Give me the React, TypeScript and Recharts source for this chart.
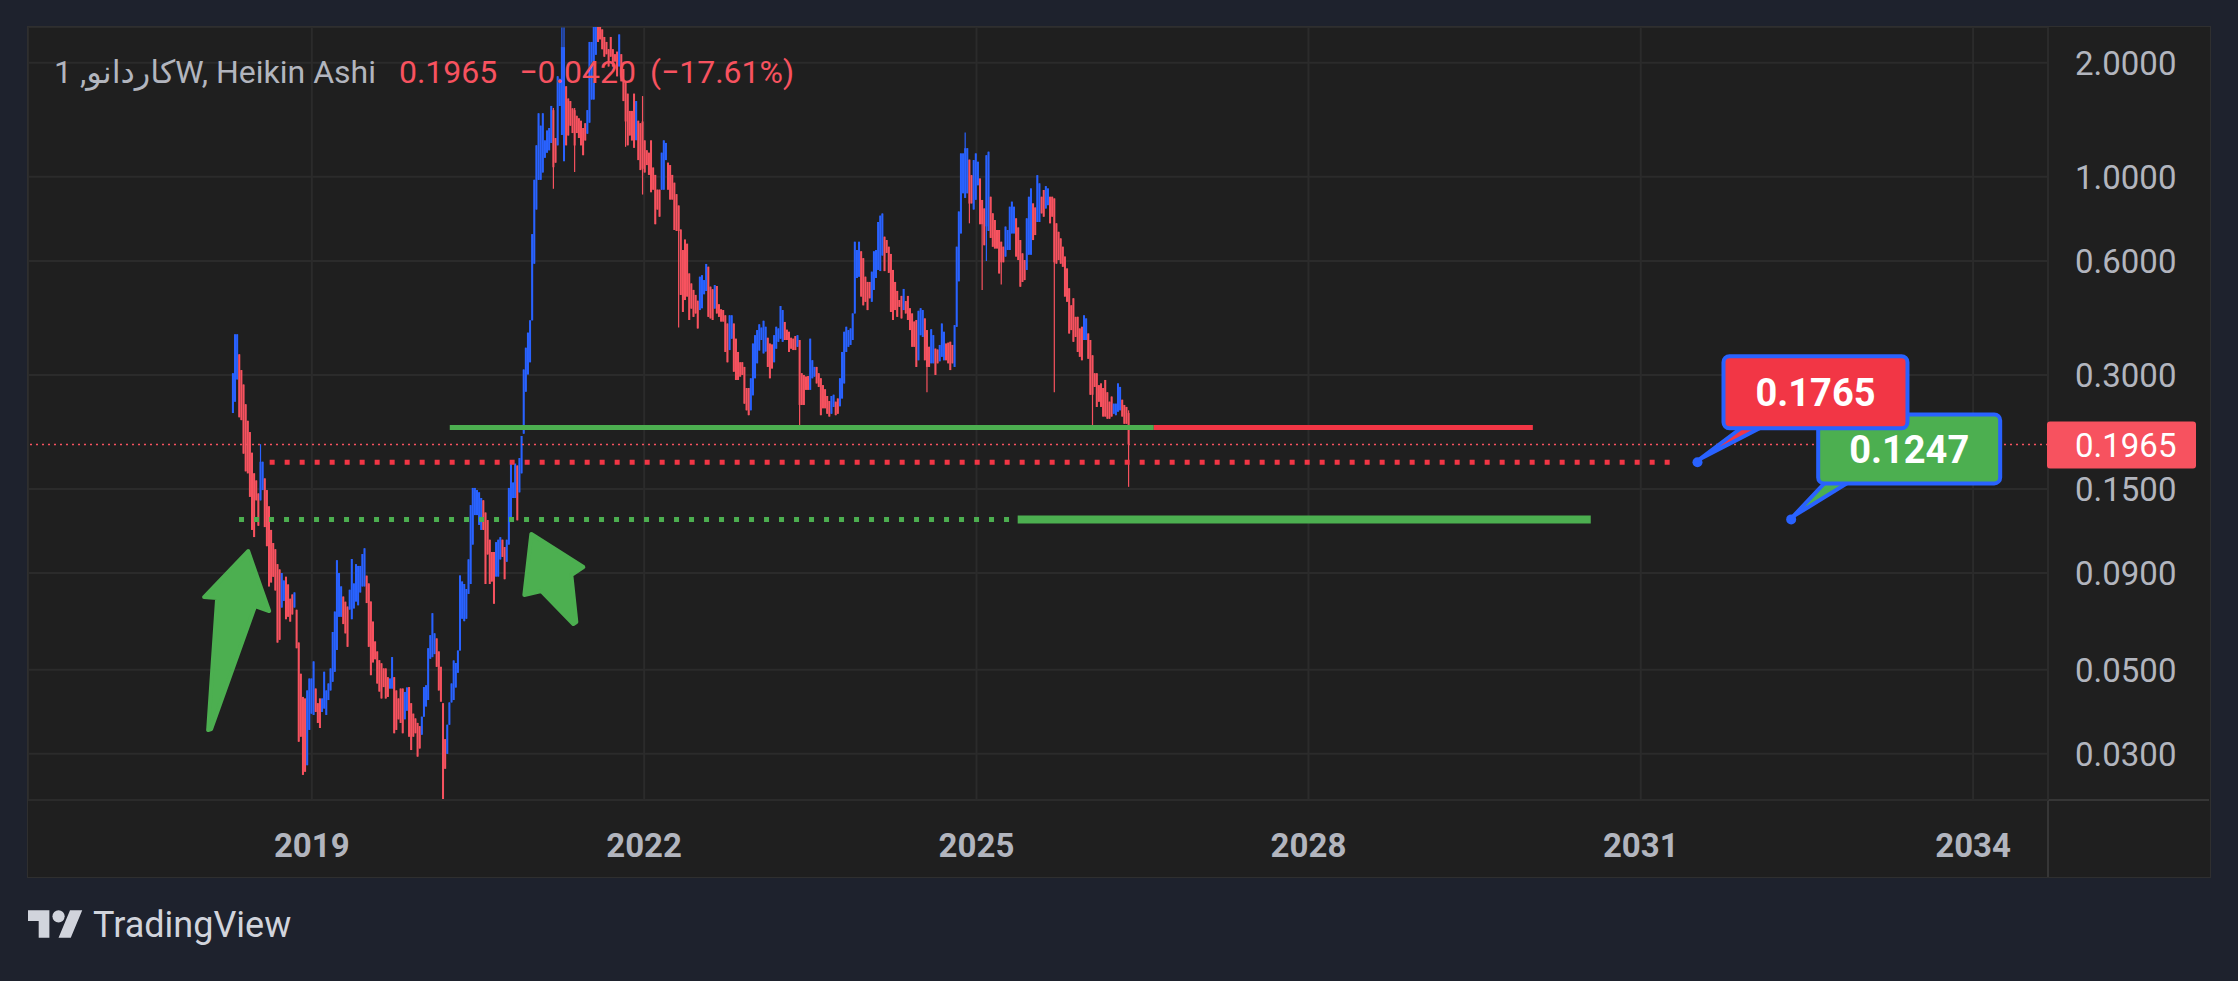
import React from "react";
import {
  ComposedChart, Bar, XAxis, YAxis, CartesianGrid, ReferenceLine, ReferenceDot,
} from "recharts";

const BLUE = "#2962ff";
const RED = "#f7525f";
const LINE_RED = "#f23645";
const GREEN = "#4caf50";
const TEXT = "#b2b5be";

const WEEK = 7 * 86400000;
const utc = (s: string) => Date.parse(s + "T00:00:00Z");
const START = utc("2018-04-16");

// weekly Heikin Ashi candles: [open, close, high?, low?]
const ada2018 = [
  [0.238, 0.303], [0.255, 0.384], [0.292, 0.384], [0.34, 0.232], [0.309, 0.228], [0.283, 0.186], [0.251, 0.167], [0.227, 0.165], [0.212, 0.143], [0.187, 0.117],
  [0.165, 0.112], [0.158, 0.14], [0.146, 0.12], [0.14, 0.177, 0.197], [0.149, 0.177], [0.16, 0.119], [0.149, 0.106], [0.135, 0.083], [0.117, 0.085], [0.108, 0.088],
  [0.104, 0.081], [0.095, 0.059], [0.092, 0.06], [0.073, 0.09], [0.076, 0.086], [0.088, 0.068], [0.084, 0.069], [0.077, 0.067], [0.079, 0.07], [0.073, 0.08],
  [0.072, 0.057], [0.059, 0.0323], [0.0488, 0.0333], [0.0424, 0.0264], [0.042, 0.0269], [0.028, 0.0441], [0.0347, 0.0474], [0.0383, 0.0474], [0.038, 0.0526], [0.0446, 0.0387],
  [0.0408, 0.0362], [0.042, 0.0351], [0.0387, 0.042], [0.0395, 0.0494], [0.038, 0.0441], [0.0416, 0.046], [0.0441, 0.0504], [0.0465, 0.0629], [0.0494, 0.0712], [0.0564, 0.0973],
  [0.069, 0.09], [0.069, 0.083], [0.078, 0.066], [0.0756, 0.0624], [0.0734, 0.0575], [0.0721, 0.0813], [0.068, 0.098], [0.0726, 0.0845], [0.0757, 0.095], [0.074, 0.094],
  [0.08, 0.094], [0.083, 0.101], [0.083, 0.1046], [0.0886, 0.075], [0.0845, 0.0575], [0.0757, 0.0484], [0.067, 0.0523], [0.0594, 0.0533], [0.0559, 0.046], [0.053, 0.0438],
  [0.052, 0.042], [0.0504, 0.045], [0.0504, 0.042], [0.0478, 0.0424], [0.0446, 0.0474], [0.0446, 0.054], [0.0478, 0.034], [0.0441, 0.0347], [0.042, 0.037], [0.0446, 0.0362],
  [0.0446, 0.034], [0.037, 0.0437], [0.039, 0.0449], [0.045, 0.0333], [0.0408, 0.0307], [0.0383, 0.0333], [0.0372, 0.034], [0.0362, 0.0295], [0.0355, 0.031], [0.0337, 0.0376],
  [0.0376, 0.045], [0.04, 0.0455], [0.0416, 0.057], [0.0535, 0.0617], [0.054, 0.0705], [0.055, 0.0624], [0.0605, 0.0509], [0.0559, 0.0441], [0.0509, 0.0412], [0.0408, 0.0228],
];

const ada2020 = [
  [0.0328, 0.0274], [0.03, 0.0358], [0.0358, 0.041], [0.041, 0.046], [0.0416, 0.0529], [0.0449, 0.0521], [0.0491, 0.0562], [0.0562, 0.0887], [0.0682, 0.0855], [0.0672, 0.0842],
  [0.0682, 0.0817], [0.0793, 0.0978], [0.0842, 0.136], [0.107, 0.151], [0.128, 0.151], [0.128, 0.149], [0.1206, 0.147], [0.117, 0.142], [0.14, 0.117], [0.13, 0.0842],
  [0.1242, 0.1008], [0.1102, 0.0842], [0.1023, 0.0855], [0.1023, 0.0747], [0.0881, 0.1086], [0.0881, 0.1102], [0.0978, 0.1119], [0.1102, 0.0993], [0.1054, 0.0867], [0.0964, 0.1102],
  [0.107, 0.151], [0.124, 0.178], [0.142, 0.156], [0.142, 0.175], [0.173, 0.124], [0.147, 0.181], [0.165, 0.207], [0.21, 0.31], [0.271, 0.354], [0.301, 0.388],
  [0.324, 0.418], [0.418, 0.706], [0.59, 0.982], [0.82, 1.211], [0.982, 1.471], [0.982, 1.365], [1.027, 1.471], [1.123, 1.248], [1.158, 1.325], [1.175, 1.345],
  [1.229, 1.539], [1.5, 1.06, 1.52, 0.93], [1.266, 1.09], [1.211, 1.842], [1.539, 1.814], [1.29, 2.2, 2.48], [1.1, 2.2, 2.48], [1.734, 1.211], [1.609, 1.286], [1.585, 1.365],
  [1.516, 1.305], [1.5, 1.21, 1.52, 1.03], [1.449, 1.305], [1.427, 1.266], [1.406, 1.211], [1.345, 1.141], [1.385, 1.248], [1.3, 1.5], [1.39, 2.27], [1.6, 2.27],
  [1.6, 2.6], [2.1, 2.8], [2.7, 2.27], [2.6, 2.306], [2.45, 2.172], [2.34, 2.076], [2.27, 2.107], [2.172, 1.956], [2.34, 2.076], [2.172, 1.956],
  [2.107, 2.015], [2.14, 1.842], [1.956, 2.376], [2.107, 1.787], [1.926, 1.585], [1.79, 1.4, 1.79, 1.2], [1.658, 1.211], [1.493, 1.286], [1.493, 1.248], [1.658, 1.193],
  [1.25, 1.585], [1.406, 1.107], [1.385, 1.042], [1.4, 1.05, 1.634, 0.898], [1.248, 1.027], [1.175, 1.074], [1.158, 1.012], [1.248, 0.911], [1.058, 0.925], [1.012, 0.75],
  [0.925, 0.82], [0.925, 0.785], [0.925, 1.158], [0.925, 1.248], [1.107, 1.229], [1.09, 0.925], [1.074, 0.871], [1.012, 0.871],
];

const ada2022 = [
  [0.965, 0.724], [0.9, 0.72], [0.84, 0.72, 0.84, 0.4], [0.726, 0.488], [0.641, 0.44], [0.683, 0.473], [0.666, 0.483], [0.556, 0.419], [0.523, 0.449], [0.503, 0.427],
  [0.488, 0.436], [0.471, 0.398], [0.445, 0.545], [0.45, 0.55], [0.49, 0.534], [0.5, 0.589], [0.579, 0.427], [0.513, 0.423], [0.505, 0.419], [0.449, 0.518],
  [0.515, 0.436], [0.461, 0.427], [0.447, 0.415], [0.445, 0.415], [0.431, 0.345], [0.41, 0.324], [0.349, 0.431], [0.374, 0.431], [0.41, 0.306], [0.374, 0.291],
  [0.345, 0.291], [0.324, 0.297], [0.324, 0.3], [0.315, 0.252], [0.277, 0.242], [0.277, 0.235], [0.242, 0.294], [0.265, 0.363], [0.294, 0.382], [0.322, 0.394],
  [0.348, 0.408], [0.371, 0.4], [0.342, 0.417], [0.346, 0.402], [0.376, 0.315], [0.363, 0.294], [0.361, 0.312], [0.324, 0.382], [0.352, 0.402], [0.367, 0.398],
  [0.374, 0.456], [0.367, 0.445], [0.414, 0.371], [0.395, 0.371], [0.39, 0.345], [0.376, 0.352], [0.374, 0.349], [0.38, 0.349], [0.356, 0.382], [0.371, 0.25, 0.371, 0.217],
  [0.303, 0.25], [0.3, 0.25], [0.297, 0.274], [0.298, 0.274], [0.274, 0.374], [0.294, 0.328], [0.297, 0.315], [0.315, 0.285], [0.303, 0.279], [0.294, 0.235],
  [0.282, 0.245], [0.275, 0.245], [0.264, 0.237], [0.256, 0.233], [0.237, 0.264], [0.247, 0.266], [0.255, 0.235], [0.26, 0.237], [0.248, 0.294], [0.26, 0.345],
  [0.285, 0.39], [0.345, 0.402], [0.356, 0.394], [0.36, 0.398], [0.371, 0.436], [0.436, 0.674], [0.541, 0.641], [0.545, 0.674], [0.636, 0.483], [0.61, 0.458],
  [0.545, 0.468], [0.528, 0.445], [0.528, 0.478], [0.468, 0.562], [0.503, 0.636], [0.541, 0.641], [0.568, 0.76], [0.564, 0.79], [0.62, 0.8], [0.695, 0.564],
  [0.681, 0.63], [0.654, 0.558], [0.626, 0.44], [0.568, 0.419], [0.528, 0.445], [0.5, 0.427], [0.473, 0.454], [0.485, 0.423],
];

const ada2024 = [
  [0.445, 0.506], [0.47, 0.436], [0.485, 0.419], [0.45, 0.394], [0.436, 0.356], [0.415, 0.356], [0.419, 0.315], [0.328, 0.443], [0.382, 0.45], [0.378, 0.445],
  [0.423, 0.328], [0.394, 0.315, 0.394, 0.27], [0.356, 0.315], [0.322, 0.396], [0.322, 0.382], [0.352, 0.3], [0.35, 0.322], [0.326, 0.36], [0.335, 0.41], [0.328, 0.39],
  [0.363, 0.328], [0.365, 0.322], [0.367, 0.309], [0.36, 0.322], [0.315, 0.406], [0.402, 0.654], [0.53, 0.81], [0.709, 1.153], [0.905, 1.153], [0.88, 1.19, 1.31],
  [0.905, 1.19], [1.11, 0.85, 1.11, 0.754], [1.01, 0.851], [0.82, 1.107], [0.87, 1.153], [0.95, 1.096], [0.99, 0.75], [0.869, 0.75, 0.869, 0.503], [0.825, 0.66], [0.74, 1.14, 1.14, 0.6],
  [0.72, 1.165], [0.886, 0.69], [0.801, 0.654], [0.769, 0.647], [0.724, 0.647], [0.724, 0.556], [0.674, 0.595, 0.674, 0.52], [0.654, 0.595], [0.616, 0.739], [0.641, 0.724],
  [0.641, 0.834], [0.709, 0.86], [0.709, 0.834], [0.777, 0.616], [0.735, 0.603], [0.681, 0.513], [0.628, 0.528], [0.603, 0.534], [0.568, 0.777], [0.623, 0.886],
  [0.623, 0.932], [0.851, 0.681], [0.83, 0.702], [0.76, 1.01], [0.76, 0.961], [0.886, 0.801], [0.923, 0.785], [0.825, 0.945], [0.842, 0.932], [0.886, 0.754],
  [0.886, 0.785], [0.877, 0.595, 0.877, 0.27], [0.754, 0.59], [0.716, 0.603], [0.688, 0.59], [0.654, 0.579], [0.616, 0.483], [0.573, 0.468], [0.508, 0.386], [0.458, 0.394],
  [0.478, 0.367], [0.427, 0.378], [0.427, 0.345], [0.398, 0.335], [0.402, 0.328], [0.371, 0.431], [0.371, 0.423], [0.386, 0.331], [0.371, 0.266], [0.338, 0.266, 0.338, 0.219],
  [0.303, 0.279], [0.303, 0.247], [0.282, 0.255], [0.285, 0.247], [0.277, 0.233], [0.291, 0.233], [0.27, 0.23], [0.255, 0.23], [0.263, 0.233], [0.237, 0.252],
  [0.235, 0.252], [0.24, 0.285], [0.242, 0.279], [0.258, 0.233], [0.25, 0.223], [0.247, 0.223], [0.238, 0.1965, 0.242, 0.152],
];

const yearTicks = [2019, 2022, 2025, 2028, 2031, 2034];
const priceTicks = [0.03, 0.05, 0.09, 0.15, 0.3, 0.6, 1, 2];
const LAST = 0.1965;
const CHANGE = "−0.0420";
const CHANGE_PCT = "(−17.61%)";
const SYMBOL = "کاردانو";

// drawn levels
const SUPPORT = 0.218;
const TARGET_1 = 0.1765;
const TARGET_2 = 0.1247;
const supportFrom = utc("2020-03-31");
const supportSplit = utc("2026-08-09");
const supportTo = utc("2030-01-10");
const target1From = utc("2018-08-15");
const target1To = utc("2031-04-30");
const target2From = utc("2018-05-06");
const target2Split = utc("2025-05-17");
const target2To = utc("2030-07-20");
const callout1At = utc("2031-07-07");
const callout2At = utc("2032-05-11");
const arrow1 = { x: utc("2018-06-05"), y: 0.1029 };
const arrow2 = { x: utc("2020-12-25"), y: 0.1141 };

const candles = [...ada2018, ...ada2020, ...ada2022, ...ada2024].map((k, i) => {
  const [o, c] = k;
  const h = Math.max(o, c, k[2] ?? 0);
  const l = Math.min(o, c, k[3] ?? Infinity);
  return { t: START + i * WEEK, o, c, h, l, range: [l, h] };
});

function Candle(props: any) {
  const { x, y, width, height, payload } = props;
  if (!payload || !Number.isFinite(y) || !Number.isFinite(height)) return null;
  const cx = x + width / 2;
  const { o, c, h, l } = payload;
  const span = Math.log(h) - Math.log(l) || 1;
  const py = (v: number) => y + (height * (Math.log(h) - Math.log(v))) / span;
  const top = py(Math.max(o, c));
  const bot = py(Math.min(o, c));
  const color = c >= o ? BLUE : RED;
  return (
    <g>
      <line x1={cx} x2={cx} y1={y} y2={y + height} stroke={color} strokeWidth={1.2} />
      <rect x={cx - 1} y={top} width={2} height={Math.max(bot - top, 1)} fill={color} />
    </g>
  );
}

const YearTick = ({ x, y, payload }: any) => (
  <text x={x} y={y + 57} textAnchor="middle" fill={TEXT} fontSize={33} fontWeight={700}>
    {new Date(payload.value).getUTCFullYear()}
  </text>
);

const PriceTick = ({ x, y, payload }: any) => (
  <text x={x + 27} y={y + 12} fill={TEXT} fontSize={33}>
    {Number(payload.value).toFixed(4)}
  </text>
);

const PriceTag = ({ viewBox }: any) => {
  if (!viewBox) return null;
  const x = viewBox.x + viewBox.width - 1;
  const y = viewBox.y;
  return (
    <g>
      <rect x={x} y={y - 23} width={149} height={47} rx={3} fill={RED} />
      <text x={x + 28} y={y + 12} fill="#fff" fontSize={33}>{LAST.toFixed(4)}</text>
    </g>
  );
};

const Callout = ({ cx, cy, text, fill, box, tail }: any) => {
  const [bx, by, bw, bh] = box;
  const base = cy + by + bh;
  return (
    <g>
      <polygon
        points={`${cx + 2},${cy - 3} ${cx + tail[0]},${base - 2} ${cx + tail[1]},${base - 2}`}
        fill={fill} stroke={BLUE} strokeWidth={4} strokeLinejoin="round"
      />
      <rect x={cx + bx} y={cy + by} width={bw} height={bh} rx={6} fill={fill} stroke={BLUE} strokeWidth={4} />
      <circle cx={cx} cy={cy} r={5} fill={BLUE} />
      <text x={cx + bx + bw / 2} y={cy + by + bh / 2 + 14} textAnchor="middle" fill="#fff" fontSize={38} fontWeight={700}>
        {text}
      </text>
    </g>
  );
};

const Arrow = ({ cx, cy, pts }: any) => (
  <polygon
    points={pts.map(([dx, dy]: number[]) => `${cx + dx},${cy + dy}`).join(" ")}
    fill={GREEN} stroke={GREEN} strokeWidth={4} strokeLinejoin="round"
  />
);

const arrowUp = [[-40, 179], [-31, 47], [-44, 46], [0, 0], [21, 60], [7, 55], [-37, 178]];
const arrowUpLeft = [[0, 0], [-7, 61], [10, 57], [42, 90], [45, 88], [40, 41], [52, 33]];

export default function App() {
  return (
    <div style={{
      position: "fixed", left: 0, top: 0, width: 2238, height: 981, background: "#1e222d",
      fontFamily: "Roboto, 'DejaVu Sans', sans-serif", overflow: "hidden",
    }}>
      <div style={{
        position: "absolute", left: 27, top: 26, width: 2184, height: 852, background: "#1f1f1f",
        border: "1px solid #2f2f2f", boxSizing: "border-box",
      }} />
      <div style={{ position: "absolute", left: 28, top: 799, width: 2181, height: 2, background: "#363636" }} />
      <div style={{ position: "absolute", left: 2047, top: 27, width: 2, height: 850, background: "#363636" }} />

      <div style={{ position: "absolute", left: 28, top: 27 }}>
        <ComposedChart width={2181} height={849} data={candles} margin={{ top: 0, right: 0, bottom: 0, left: 0 }}>
          <CartesianGrid stroke="#2b2b2b" strokeWidth={2} />
          <XAxis
            dataKey="t" type="number" allowDataOverflow
            domain={[utc("2016-06-09"), utc("2034-09-05")]}
            ticks={yearTicks.map((y) => Date.UTC(y, 0, 1))}
            height={76} tickSize={0} tickMargin={0} axisLine={false} tickLine={false}
            tick={<YearTick />}
          />
          <YAxis
            orientation="right" scale="log" allowDataOverflow
            domain={[0.02266, 2.486]} ticks={priceTicks}
            width={161} tickSize={0} tickMargin={0} axisLine={false} tickLine={false}
            tick={<PriceTick />}
          />
          <Bar dataKey="range" barSize={2} shape={<Candle />} isAnimationActive={false} />

          <ReferenceLine y={LAST} stroke={RED} strokeWidth={1.5} strokeDasharray="2 4" label={<PriceTag />} />
          <ReferenceLine segment={[{ x: supportFrom, y: SUPPORT }, { x: supportSplit, y: SUPPORT }]} stroke={GREEN} strokeWidth={5} />
          <ReferenceLine segment={[{ x: supportSplit, y: SUPPORT }, { x: supportTo, y: SUPPORT }]} stroke={LINE_RED} strokeWidth={5} />
          <ReferenceLine segment={[{ x: target1From, y: TARGET_1 }, { x: target1To, y: TARGET_1 }]} stroke={LINE_RED} strokeWidth={5} strokeDasharray="5 10" />
          <ReferenceLine segment={[{ x: target2From, y: TARGET_2 }, { x: target2Split, y: TARGET_2 }]} stroke={GREEN} strokeWidth={5} strokeDasharray="5 10" />
          <ReferenceLine segment={[{ x: target2Split, y: TARGET_2 }, { x: target2To, y: TARGET_2 }]} stroke={GREEN} strokeWidth={8} />

          <ReferenceDot x={arrow1.x} y={arrow1.y} shape={(p: any) => <Arrow cx={p.cx} cy={p.cy} pts={arrowUp} />} />
          <ReferenceDot x={arrow2.x} y={arrow2.y} shape={(p: any) => <Arrow cx={p.cx} cy={p.cy} pts={arrowUpLeft} />} />
          <ReferenceDot
            x={callout2At} y={TARGET_2}
            shape={(p: any) => <Callout cx={p.cx} cy={p.cy} text={TARGET_2.toFixed(4)} fill={GREEN} box={[27, -105, 182, 69]} tail={[35, 59]} />}
          />
          <ReferenceDot
            x={callout1At} y={TARGET_1}
            shape={(p: any) => <Callout cx={p.cx} cy={p.cy} text={TARGET_1.toFixed(4)} fill={LINE_RED} box={[26, -106, 184, 72]} tail={[46, 66]} />}
          />
        </ComposedChart>
      </div>

      <div style={{
        position: "absolute", left: 54, top: 56, display: "flex", alignItems: "baseline",
        fontSize: 32, lineHeight: "32px", whiteSpace: "pre", color: TEXT,
      }}>
        <span>1 ,</span>
        <span>{SYMBOL}</span>
        <span>W, Heikin Ashi</span>
        <span style={{ color: RED, marginLeft: 23 }}>{LAST.toFixed(4)}</span>
        <span style={{ color: RED, marginLeft: 22 }}>{CHANGE}</span>
        <span style={{ color: RED, marginLeft: 14 }}>{CHANGE_PCT}</span>
      </div>

      <div style={{ position: "absolute", left: 28, top: 904 }}>
        <svg width={55} height={43} viewBox="0 0 36 28">
          <path d="M14 22H7V11H0V4h14v18zM28 22h-8l7.5-18h8L28 22z" fill="#d1d4dc" />
          <circle cx={20} cy={8} r={4} fill="#d1d4dc" />
        </svg>
      </div>
      <div style={{ position: "absolute", left: 93, top: 907, fontSize: 36, lineHeight: "36px", color: "#d1d4dc" }}>
        TradingView
      </div>
    </div>
  );
}
